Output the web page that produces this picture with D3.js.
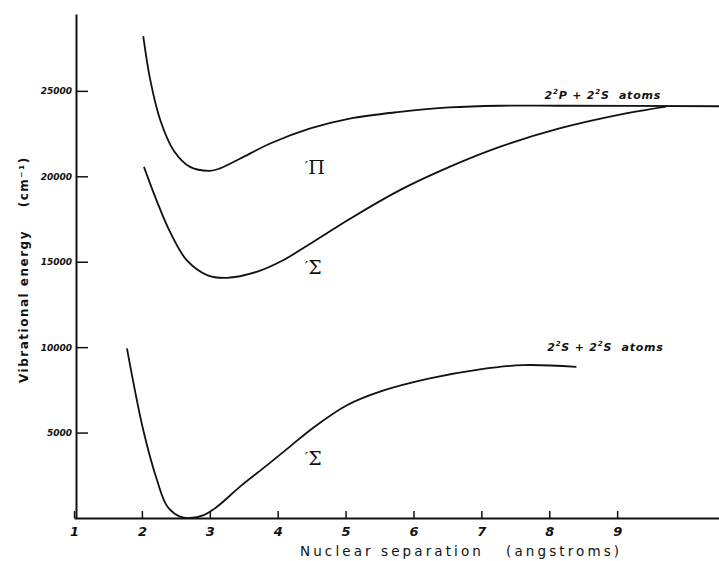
<!DOCTYPE html>
<html>
<head>
<meta charset="utf-8">
<script src="https://cdn.jsdelivr.net/npm/d3@7"></script>
<style>
  body { margin: 0; background: #fff; }
  .axis path, .axis line { stroke: #111; }
  .axis text { fill: #111; font-family: "DejaVu Sans", sans-serif; font-style: italic; }
</style>
</head>
<body>
<div id="chart"></div>
<script>
// curve readings (separation in angstroms, energy in cm^-1)
var piX = [2.02, 2.12, 2.27, 2.47, 2.71, 3.0, 3.15, 3.45, 3.89, 4.48, 5.06, 5.8, 6.53, 7.27, 8.15, 10.5]
var piY = [28200, 25700, 23300, 21500, 20550, 20320, 20460, 21040, 21920, 22800, 23380, 23770, 24030, 24130, 24130, 24100]

var sigUpX = [2.03, 2.22, 2.42, 2.66, 2.96, 3.25, 3.69, 4.08, 4.48, 5.06, 5.8, 6.53, 7.27, 8.15, 9.13, 9.72]
var sigUpY = [20550, 18550, 16700, 15090, 14220, 14060, 14410, 15090, 16050, 17500, 19190, 20550, 21720, 22800, 23680, 24080]

var sigLoX = [1.78, 2.02, 2.22, 2.37, 2.56, 2.71, 2.91, 3.1, 3.45, 3.84, 4.18, 4.52, 5.02, 5.55, 6.24, 6.98, 7.61, 8.4]
var sigLoY = [9930, 5150, 2250, 700, 80, 0, 170, 640, 1850, 3080, 4180, 5270, 6600, 7450, 8170, 8700, 8950, 8850]

var xTicks = [1, 2, 3, 4, 5, 6, 7, 8, 9]
var yTicks = [5000, 10000, 15000, 20000, 25000]

var svgWidth = 719
var svgHeight = 561

var margin = { top: 14, left: 74, right: 0, bottom: 43 }
var chartWidth = svgWidth - margin.left - margin.right
var chartHeight = svgHeight - margin.top - margin.bottom

var svg = d3.select("#chart")
    .append("svg")
    .attr("width", svgWidth)
    .attr("height", svgHeight)

var chartGroup = svg.append("g")
    .attr("transform", `translate(${margin.left}, ${margin.top})`)

var xScale = d3.scaleLinear()
    .domain([1, 10.5])
    .range([0, chartWidth])

var yScale = d3.scaleLinear()
    .domain([0, 29500])
    .range([chartHeight, 0])

// axes, ticks pointing inward
var xAxis = d3.axisBottom(xScale)
    .tickValues(xTicks)
    .tickSizeInner(-7)
    .tickSizeOuter(0)
    .tickPadding(9)
    .tickFormat(d3.format("d"))

var yAxis = d3.axisLeft(yScale)
    .tickValues(yTicks)
    .tickSizeInner(-12)
    .tickSizeOuter(0)
    .tickPadding(4)
    .tickFormat(d3.format("d"))

var gx = chartGroup.append("g")
    .attr("class", "axis")
    .attr("transform", `translate(0, ${chartHeight})`)
    .call(xAxis)
gx.select(".domain").attr("stroke-width", 2)
gx.selectAll(".tick line").attr("stroke-width", 1.5)
gx.selectAll(".tick text").attr("font-size", 13).attr("font-weight", "bold")

var gy = chartGroup.append("g")
    .attr("class", "axis")
    .attr("transform", "translate(2, 0)")
    .call(yAxis)
gy.select(".domain").attr("stroke-width", 2)
gy.selectAll(".tick line").attr("stroke-width", 1.5)
gy.selectAll(".tick text").attr("font-size", 9).attr("font-weight", "bold")

// curves
var line = d3.line()
    .x(d => xScale(d[0]))
    .y(d => Math.min(yScale(d[1]), chartHeight))
    .curve(d3.curveCatmullRom.alpha(0.5))

var curves = [d3.zip(piX, piY), d3.zip(sigUpX, sigUpY), d3.zip(sigLoX, sigLoY)]

chartGroup.append("g")
    .selectAll("path")
    .data(curves)
    .enter()
    .append("path")
    .attr("d", line)
    .attr("fill", "none")
    .attr("stroke", "#111")
    .attr("stroke-width", 1.8)

// state labels
var stateLabels = [
    { x: 4.4, y: 20150, t: "Π" },
    { x: 4.4, y: 14300, t: "Σ" },
    { x: 4.4, y: 3100, t: "Σ" }
]
var st = chartGroup.append("g")
    .selectAll("text")
    .data(stateLabels)
    .enter()
    .append("text")
    .attr("x", d => xScale(d.x))
    .attr("y", d => yScale(d.y))
    .attr("font-family", "DejaVu Serif, serif")
    .attr("font-size", 19)
    .attr("fill", "#111")
st.append("tspan").attr("font-size", 15).attr("dy", -2).text("′")
st.append("tspan").attr("dy", 2).text(d => d.t)

// asymptote labels
function atomsLabel(x, y, a, b) {
    var t = chartGroup.append("text")
        .attr("x", xScale(x))
        .attr("y", yScale(y))
        .attr("font-family", "DejaVu Sans, sans-serif")
        .attr("font-style", "italic")
        .attr("font-weight", "bold")
        .attr("font-size", 11)
        .attr("letter-spacing", 0.8)
        .attr("xml:space", "preserve")
        .attr("fill", "#111")
    t.append("tspan").text("2")
    t.append("tspan").attr("font-size", 7).attr("dy", -5).text("2")
    t.append("tspan").attr("dy", 5).text(a + " + 2")
    t.append("tspan").attr("font-size", 7).attr("dy", -5).text("2")
    t.append("tspan").attr("dy", 5).text(b + "  atoms")
}
atomsLabel(7.93, 24550, "P", "S")
atomsLabel(7.97, 9750, "S", "S")

// axis titles
svg.append("text")
    .attr("x", 300)
    .attr("y", 556)
    .attr("font-family", "DejaVu Sans, sans-serif")
    .attr("font-size", 13.5)
    .attr("letter-spacing", 3.1)
    .attr("xml:space", "preserve")
    .attr("fill", "#111")
    .text("Nuclear separation   (angstroms)")

svg.append("text")
    .attr("transform", "translate(28, 383) rotate(-90)")
    .attr("font-family", "DejaVu Sans, sans-serif")
    .attr("font-size", 12)
    .attr("font-weight", "bold")
    .attr("letter-spacing", 1.5)
    .attr("xml:space", "preserve")
    .attr("fill", "#111")
    .text("Vibrational energy    (cm⁻¹)")
</script>
</body>
</html>
